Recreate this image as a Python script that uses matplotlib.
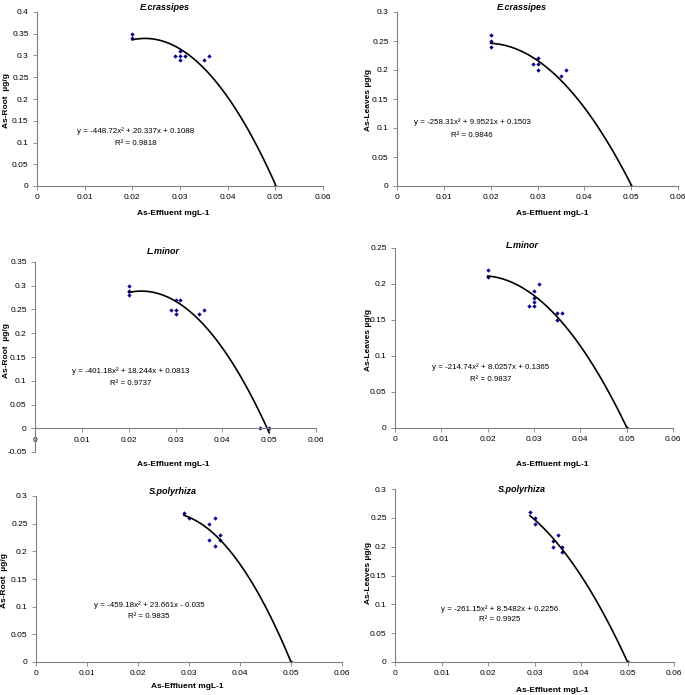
import numpy as np
import matplotlib.pyplot as plt
from matplotlib.ticker import FuncFormatter

plt.rcParams['font.family'] = ['Liberation Sans', 'DejaVu Sans']

W, H = 685, 695

# --- данные ---
titles = ['E.crassipes', 'E.crassipes', 'L.minor', 'L.minor', 'S.polyrhiza', 'S.polyrhiza']
ylabels = ['As-Root  \u00b5g/g', 'As-Leaves \u00b5g/g', 'As-Root  \u00b5g/g',
           'As-Leaves \u00b5g/g', 'As-Root  \u00b5g/g', 'As-Leaves \u00b5g/g']

x1 = [0.02, 0.02, 0.03, 0.029, 0.03, 0.031, 0.03, 0.035, 0.036, 0.05]
y1 = [0.35, 0.34, 0.31, 0.30, 0.30, 0.30, 0.29, 0.29, 0.30, 0.0]
x2 = [0.02, 0.02, 0.02, 0.029, 0.03, 0.03, 0.03, 0.035, 0.036, 0.05]
y2 = [0.26, 0.25, 0.24, 0.21, 0.22, 0.21, 0.20, 0.19, 0.20, 0.0]
x3 = [0.02, 0.02, 0.02, 0.029, 0.03, 0.031, 0.03, 0.03, 0.035, 0.036, 0.048, 0.05]
y3 = [0.30, 0.29, 0.28, 0.25, 0.27, 0.27, 0.25, 0.24, 0.24, 0.25, 0.0, 0.0]
x4 = [0.02, 0.02, 0.029, 0.03, 0.03, 0.03, 0.03, 0.031, 0.035, 0.035, 0.036, 0.05]
y4 = [0.22, 0.21, 0.17, 0.19, 0.18, 0.175, 0.17, 0.20, 0.16, 0.15, 0.16, 0.0]
x5 = [0.029, 0.03, 0.034, 0.035, 0.034, 0.036, 0.036, 0.035, 0.05]
y5 = [0.27, 0.26, 0.25, 0.26, 0.22, 0.23, 0.22, 0.21, 0.0]
x6 = [0.029, 0.03, 0.03, 0.034, 0.034, 0.035, 0.036, 0.036, 0.05]
y6 = [0.26, 0.25, 0.24, 0.21, 0.20, 0.22, 0.20, 0.19, 0.0]
xs = [x1, x2, x3, x4, x5, x6]
ys = [y1, y2, y3, y4, y5, y6]

# коэффициенты линий тренда (из подписей на графике)
coefs = [[-448.72, 20.337, 0.1088], [-258.31, 9.9521, 0.1503],
         [-401.18, 18.244, 0.0813], [-214.74, 8.0257, 0.1365],
         [-459.18, 23.661, -0.035], [-261.15, 8.5482, 0.2256]]
eqs = ['y = -448.72x\u00b2 + 20.337x + 0.1088', 'y = -258.31x\u00b2 + 9.9521x + 0.1503',
       'y = -401.18x\u00b2 + 18.244x + 0.0813', 'y = -214.74x\u00b2 + 8.0257x + 0.1365',
       'y = -459.18x\u00b2 + 23.661x - 0.035', 'y = -261.15x\u00b2 + 8.5482x + 0.2256']
r2 = ['0.9818', '0.9846', '0.9737', '0.9837', '0.9835', '0.9925']

ylims = [(0, 0.4), (0, 0.3), (-0.05, 0.35), (0, 0.25), (0, 0.3), (0, 0.3)]

# --- раскладка в пикселях ---
rects = [(37, 12, 323, 186), (397, 12, 678, 186), (35, 262, 316, 452),
         (395, 248, 673, 428), (36, 496, 342, 662), (395, 489, 674, 662)]
title_pos = [(165, 7), (522, 7), (163, 251), (522, 246), (173, 492), (522, 489)]
xlab_pos = [(173, 213), (552, 213), (173, 465), (552, 465), (187, 687), (552, 690)]
ylab_pos = [(7, 100), (368, 100), (7, 350), (368, 340), (5, 580), (368, 573)]
eq_pos = [(0.346, 0.316, 0.247), (0.267, 0.368, 0.293), (0.342, 0.426, 0.358),
          (0.345, 0.339, 0.272), (0.369, 0.343, 0.277), (0.376, 0.306, 0.243)]


def fx(px):
    return px / W


def fy(py):
    return 1 - py / H


fig = plt.figure(figsize=(W / 100, H / 100), dpi=100)
fmt = FuncFormatter(lambda v, p: '%g' % round(v, 4))

for i in range(6):
    l, t, r, b = rects[i]
    ax = fig.add_axes([fx(l), fy(b), (r - l) / W, (b - t) / H])
    ax.plot(xs[i], ys[i], 'D', color='#00008b', markersize=2.2, markeredgewidth=0)
    xx = np.linspace(min(xs[i]), max(xs[i]), 100)
    ax.plot(xx, np.polyval(coefs[i], xx), color='black', lw=1.2)

    ax.set_xlim(0, 0.06)
    ax.set_ylim(*ylims[i])
    ax.set_xticks(np.arange(0, 0.0601, 0.01))
    ax.set_yticks(np.arange(ylims[i][0], ylims[i][1] + 1e-9, 0.05))
    ax.xaxis.set_major_formatter(fmt)
    ax.yaxis.set_major_formatter(fmt)
    for s in ['top', 'right']:
        ax.spines[s].set_visible(False)
    for s in ['left', 'bottom']:
        ax.spines[s].set_color('#808080')
        ax.spines[s].set_linewidth(0.8)
    if ylims[i][0] < 0:
        ax.spines['bottom'].set_position(('data', 0))
    ax.tick_params(labelsize=6, length=3, width=0.6, color='#808080', pad=3)

    ex, ey, ry = eq_pos[i]
    ax.text(ex, ey, eqs[i], transform=ax.transAxes, ha='center', va='center', fontsize=5.7)
    ax.text(ex, ry, 'R\u00b2 = ' + r2[i], transform=ax.transAxes, ha='center', va='center', fontsize=5.7)

    fig.text(fx(title_pos[i][0]), fy(title_pos[i][1]), titles[i], ha='center', va='center',
             fontsize=6.5, fontweight='bold', fontstyle='italic')
    fig.text(fx(xlab_pos[i][0]), fy(xlab_pos[i][1]), 'As-Effluent mgL-1', ha='center', va='center',
             fontsize=6, fontweight='bold')
    fig.text(fx(ylab_pos[i][0]), fy(ylab_pos[i][1]), ylabels[i], ha='center', va='center',
             fontsize=6, fontweight='bold', rotation=90)

plt.savefig('out.png', dpi=100)
